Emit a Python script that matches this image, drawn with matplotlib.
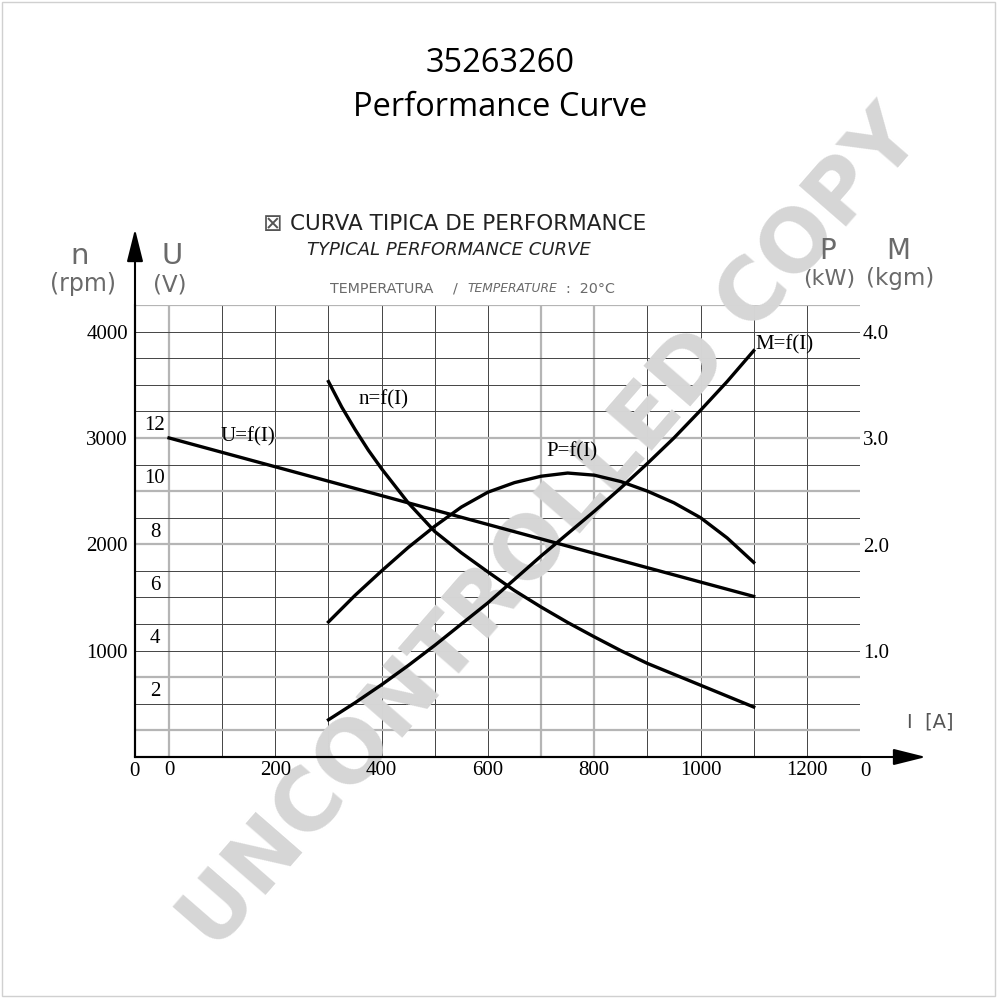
import matplotlib
matplotlib.use('Agg')
import matplotlib.pyplot as plt
from matplotlib.patches import Rectangle

# ---- data ----
current_ticks = [0, 200, 400, 600, 800, 1000, 1200]
rpm_ticks = [1000, 2000, 3000, 4000]
volt_ticks = [2, 4, 6, 8, 10, 12]
power_ticks = [1.0, 2.0, 3.0, 4.0]

# U=f(I) in V
u_current = [0, 400, 800, 1100]
u_volts = [12.0, 9.83, 7.66, 6.04]

# n=f(I) in rpm
n_current = [300, 325, 350, 375, 400, 450, 500, 550, 600, 650, 700, 750, 800, 850, 900, 1000, 1100]
n_rpm = [3530, 3290, 3080, 2885, 2710, 2390, 2120, 1920, 1740, 1565, 1410, 1265, 1130, 1000, 880, 675, 470]

# P=f(I) in kW
p_current = [300, 350, 400, 450, 500, 550, 600, 650, 700, 750, 800, 850, 900, 950, 1000, 1050, 1100]
p_kw = [1.27, 1.52, 1.75, 1.97, 2.17, 2.35, 2.49, 2.58, 2.64, 2.67, 2.65, 2.59, 2.50, 2.39, 2.25, 2.06, 1.83]

# M=f(I) in kgm
m_current = [300, 350, 400, 450, 500, 550, 600, 650, 700, 750, 800, 850, 900, 950, 1000, 1050, 1100]
m_kgm = [0.35, 0.51, 0.68, 0.86, 1.05, 1.25, 1.45, 1.67, 1.89, 2.10, 2.31, 2.53, 2.76, 3.00, 3.26, 3.53, 3.82]

# grid layout (A and rpm)
grid_current = list(range(0, 1301, 100))
grid_rpm = list(range(250, 4251, 250))
gray_current = [0, 700, 800]
gray_rpm = [250, 750, 2000, 2500, 3000, 4250]

SERIF = 'Liberation Serif'
SANS = 'DejaVu Sans'

fig = plt.figure(figsize=(10, 10), dpi=100)
fig.patches.append(Rectangle((0.002, 0.004), 0.993, 0.994, transform=fig.transFigure,
                             fill=False, edgecolor='#d0d0d0', lw=1))

ax = fig.add_axes([0.135, 0.243, 0.725, 0.452])
ax.set_facecolor('none')
ax.set_xlim(-64, 1300)
ax.set_ylim(0, 4250)

ax_u = ax.twinx()
ax_u.set_ylim(0, 17)
ax_u.axis('off')
ax_p = ax.twinx()
ax_p.set_ylim(0, 4.25)
ax_p.axis('off')

# grid
for c in grid_current:
    if c in gray_current:
        ax.axvline(c, color='#b5b5b5', lw=1.6, zorder=1)
    else:
        ax.axvline(c, color='#444444', lw=0.7, zorder=1)
for r in grid_rpm:
    if r in gray_rpm:
        ax.axhline(r, color='#b5b5b5', lw=1.6, zorder=1)
    else:
        ax.axhline(r, color='#444444', lw=0.7, zorder=1)

for s in ['top', 'right']:
    ax.spines[s].set_visible(False)
ax.spines['left'].set_linewidth(1.5)
ax.spines['bottom'].set_linewidth(1.5)

# axis arrows
ax.annotate('', xy=(0, 1.168), xytext=(0, 0), xycoords='axes fraction',
            arrowprops=dict(arrowstyle='-|>,head_length=1.0,head_width=0.25', color='k',
                            lw=1.5, mutation_scale=20, shrinkA=0, shrinkB=0),
            annotation_clip=False)
ax.annotate('', xy=(1.091, 0), xytext=(0, 0), xycoords='axes fraction',
            arrowprops=dict(arrowstyle='-|>,head_length=1.0,head_width=0.25', color='k',
                            lw=1.5, mutation_scale=20, shrinkA=0, shrinkB=0),
            annotation_clip=False)

# ticks
ax.set_xticks(current_ticks)
ax.set_xticklabels([str(c) for c in current_ticks], family=SERIF, fontsize=15)
ax.set_yticks(rpm_ticks)
ax.set_yticklabels([str(r) for r in rpm_ticks], family=SERIF, fontsize=15)
ax.tick_params(axis='both', length=0)
ax.tick_params(axis='x', pad=3)
ax.tick_params(axis='y', pad=5)

for v in volt_ticks:
    ax_u.annotate(str(v), xy=(0.155, v), xycoords=(fig.transFigure, ax_u.transData),
                  xytext=(0, 2), textcoords='offset points', ha='center', va='bottom',
                  family=SERIF, fontsize=15, annotation_clip=False)
for v in power_ticks:
    ax_p.annotate('%.1f' % v, xy=(1, v), xycoords=('axes fraction', 'data'),
                  xytext=(2, -2), textcoords='offset points', ha='left', va='center',
                  family=SERIF, fontsize=15, annotation_clip=False)
ax.text(-0.001, -0.012, '0', transform=ax.transAxes, ha='center', va='top',
        family=SERIF, fontsize=15)
ax.text(1.008, -0.012, '0', transform=ax.transAxes, ha='center', va='top',
        family=SERIF, fontsize=15)

# watermark, below the curves and labels
ax.text(0.552, 0.47, 'UNCONTROLLED COPY', transform=fig.transFigure, rotation=49,
        ha='center', va='center', family=SANS, weight='bold', fontsize=62,
        color='#d6d6d6', zorder=1.5, clip_on=False)

# curves
lw = 2.4
ax_u.plot(u_current, u_volts, color='k', lw=lw, zorder=5)
ax.plot(n_current, n_rpm, color='k', lw=lw, zorder=5)
ax_p.plot(p_current, p_kw, color='k', lw=lw, zorder=5)
ax_p.plot(m_current, m_kgm, color='k', lw=lw, zorder=5)

ax.text(149, 3010, 'U=f(I)', ha='center', va='center', family=SERIF, fontsize=15)
ax.text(403, 3355, 'n=f(I)', ha='center', va='center', family=SERIF, fontsize=15)
ax.text(758, 2867, 'P=f(I)', ha='center', va='center', family=SERIF, fontsize=15)
ax.text(1103, 3872, 'M=f(I)', ha='left', va='center', family=SERIF, fontsize=15)

# axis names
gray = '#6a6a6a'
fig.text(0.080, 1 - 0.264, 'n', ha='center', va='baseline', family=SANS, fontsize=21, color=gray)
fig.text(0.083, 1 - 0.284, '(rpm)', ha='center', va='center', family=SANS, fontsize=17, color=gray)
fig.text(0.172, 1 - 0.264, 'U', ha='center', va='baseline', family=SANS, fontsize=21, color=gray)
fig.text(0.170, 1 - 0.285, '(V)', ha='center', va='center', family=SANS, fontsize=16.5, color=gray)
fig.text(0.828, 1 - 0.259, 'P', ha='center', va='baseline', family=SANS, fontsize=20, color=gray)
fig.text(0.829, 1 - 0.279, '(kW)', ha='center', va='center', family=SANS, fontsize=16, color=gray)
fig.text(0.898, 1 - 0.259, 'M', ha='center', va='baseline', family=SANS, fontsize=20, color=gray)
fig.text(0.900, 1 - 0.279, '(kgm)', ha='center', va='center', family=SANS, fontsize=16.5, color=gray)
fig.text(0.907, 1 - 0.722, 'I  [A]', ha='left', va='center', family=SANS, fontsize=14, color='#555555')

# headings
fig.text(0.5, 1 - 0.064, '35263260', ha='center', va='center', family='Open Sans', fontsize=23.5)
fig.text(0.5, 1 - 0.107, 'Performance Curve', ha='center', va='center', family='Open Sans', fontsize=23.5)

fig.text(0.273, 1 - 0.224, '\u22a0', ha='center', va='center', family=SANS, fontsize=17, color='#555555')
fig.text(0.290, 1 - 0.224, 'CURVA TIPICA DE PERFORMANCE', ha='left', va='center',
         family=SANS, fontsize=15.5, color='#222222')
fig.text(0.307, 1 - 0.250, 'TYPICAL PERFORMANCE CURVE', ha='left', va='center',
         family=SANS, style='italic', fontsize=13, color='#222222')
fig.text(0.330, 1 - 0.289, 'TEMPERATURA', ha='left', va='center', family=SANS, fontsize=10.3, color=gray)
fig.text(0.455, 1 - 0.289, '/', ha='center', va='center', family=SANS, fontsize=10.3, color=gray)
fig.text(0.467, 1 - 0.289, 'TEMPERATURE', ha='left', va='center', family=SANS, style='italic',
         fontsize=8.8, color=gray)
fig.text(0.566, 1 - 0.289, ':  20\u00b0C', ha='left', va='center', family=SANS, fontsize=10.3, color=gray)

fig.savefig('out.png', dpi=100, facecolor='white')
